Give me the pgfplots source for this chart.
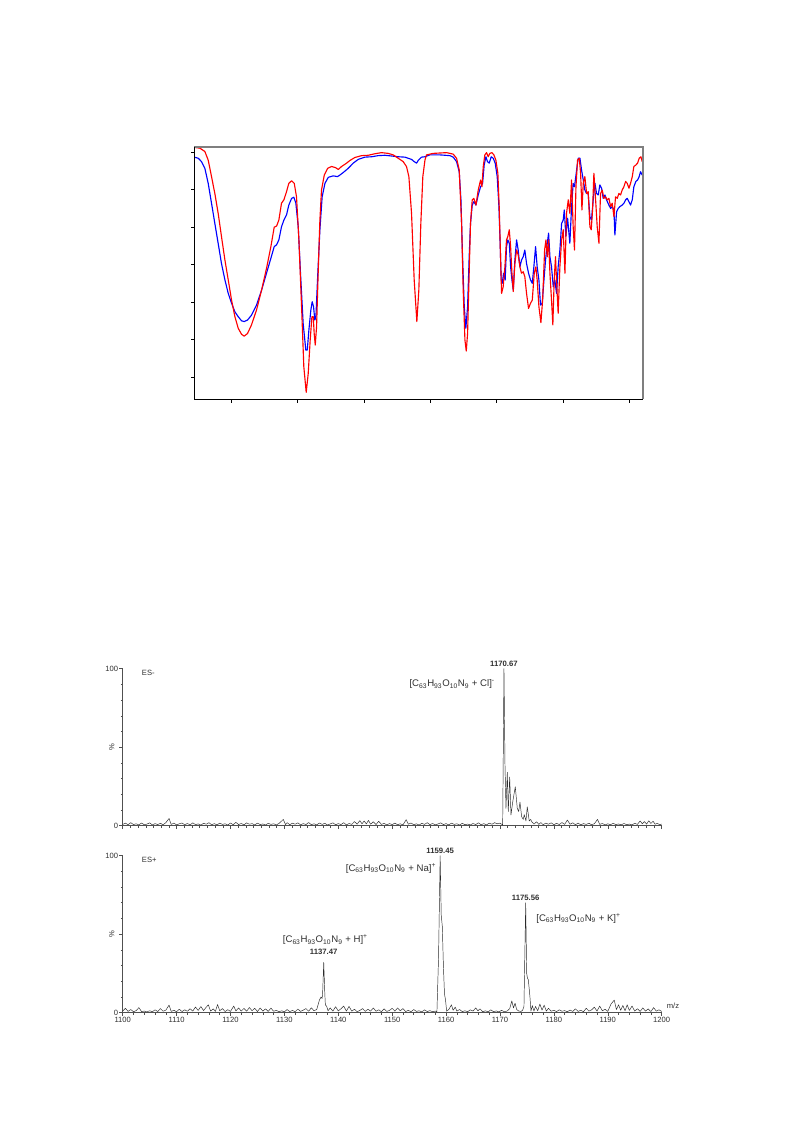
\documentclass[border=0pt]{standalone}
\usepackage{pgfplots}
\usepackage{pgfplotstable}
\pgfplotsset{compat=1.18}
\usepackage{fontspec}
\setmainfont{Liberation Sans}

\definecolor{msline}{HTML}{2B2B2B}
\definecolor{msaxcol}{HTML}{505050}
\definecolor{mstext}{HTML}{303030}
\definecolor{framegray}{HTML}{7F7F7F}

\newcommand{\tickfont}{\fontsize{5.7}{6.5}\selectfont}
\newcommand{\peakfont}{\fontsize{5.8}{6.5}\selectfont\bfseries}
\newcommand{\ionfont}{\fontsize{7.2}{8.5}\selectfont}
\newcommand{\fml}{[C\textsubscript{63}H\textsubscript{93}O\textsubscript{10}N\textsubscript{9}}

% IR spectra: wavenumber / cm-1, transmittance / %
\pgfplotstableread{
w T
3778 98.7
3748 98.4
3723 97.5
3698 95.7
3673 91.7
3648 86.4
3623 81.0
3598 75.7
3573 70.3
3547 65.9
3522 62.3
3497 59.7
3472 57.4
3447 56.1
3422 55.0
3402 54.8
3377 55.2
3347 56.5
3309 59.2
3271 63.2
3234 67.7
3201 71.7
3176 74.8
3158 75.3
3141 76.6
3121 80.1
3103 81.9
3083 83.3
3066 85.9
3045 87.7
3028 88.0
3013 86.4
2995 80.1
2978 67.7
2958 54.3
2938 47.2
2927 47.2
2915 52.5
2900 57.9
2890 60.1
2880 58.8
2870 55.2
2862 56.1
2850 65.9
2832 79.3
2815 88.1
2794 91.7
2769 93.3
2732 93.7
2699 93.5
2682 93.9
2656 94.6
2619 95.7
2581 97.1
2543 98.1
2493 98.7
2443 98.8
2393 99.1
2343 99.2
2292 99.0
2242 98.8
2192 98.7
2142 98.1
2122 97.5
2104 97.1
2092 97.8
2067 98.7
2041 98.8
2004 99.3
1929 99.3
1853 99.1
1828 98.7
1803 97.5
1783 94.8
1770 87.3
1758 72.1
1745 58.8
1733 53.0
1720 58.8
1708 72.1
1698 81.0
1685 85.9
1673 86.8
1657 85.9
1640 88.6
1622 90.8
1607 91.7
1595 96.6
1582 98.8
1570 97.5
1557 97.1
1542 98.8
1527 98.4
1512 97.1
1497 93.5
1484 85.5
1474 74.8
1467 65.9
1459 65.0
1449 67.7
1437 65.9
1427 74.8
1417 76.6
1406 75.7
1396 69.4
1386 65.9
1376 63.2
1364 71.2
1351 76.6
1339 73.9
1326 69.4
1314 71.2
1301 72.1
1289 73.9
1276 70.3
1261 67.7
1246 65.9
1233 65.0
1221 69.4
1208 74.8
1196 69.4
1183 65.9
1171 59.2
1158 59.7
1145 65.9
1133 71.2
1120 75.7
1110 78.4
1100 72.1
1088 69.4
1075 64.1
1063 65.9
1050 62.3
1038 69.4
1025 73.9
1012 81.0
1000 81.9
992 84.6
980 77.5
967 82.4
950 75.7
937 85.5
925 91.7
915 90.8
899 95.3
887 98.4
874 98.4
862 95.3
849 92.6
837 89.9
824 89.0
812 89.0
799 82.8
787 81.9
774 87.3
761 91.7
749 89.0
736 88.6
724 91.3
711 90.4
699 87.7
686 88.6
674 87.3
656 85.9
643 85.0
631 85.5
618 84.6
611 77.9
598 84.1
586 85.0
573 85.5
556 85.9
543 86.4
530 87.3
518 87.7
505 86.8
493 85.9
480 87.3
468 90.8
453 92.2
440 92.6
428 93.5
418 94.8
405 93.9
}\irblue

\pgfplotstableread{
w T
3778 101.3
3736 101.1
3698 100.2
3673 97.9
3648 93.5
3623 89.0
3598 83.7
3573 77.5
3547 71.2
3522 65.9
3497 60.5
3472 56.1
3447 53.0
3422 51.4
3402 50.9
3377 51.6
3347 53.9
3309 57.9
3271 63.2
3234 69.0
3201 74.8
3176 80.0
3158 80.3
3141 81.9
3121 86.4
3103 87.3
3083 89.5
3066 91.7
3045 92.4
3025 91.7
3008 88.1
2990 76.6
2970 58.8
2953 42.7
2935 35.9
2920 40.9
2905 49.9
2892 56.1
2882 56.1
2875 51.6
2867 48.5
2857 53.4
2845 67.7
2832 81.9
2820 89.9
2799 93.9
2774 95.7
2744 96.2
2714 95.9
2694 95.4
2669 96.2
2631 97.1
2606 97.8
2569 98.6
2518 99.1
2468 99.2
2418 99.6
2368 99.9
2318 99.7
2280 99.3
2242 98.4
2205 97.5
2180 96.2
2162 93.5
2142 83.7
2122 65.9
2102 54.8
2087 63.2
2072 81.0
2057 93.5
2041 97.9
2029 99.3
1979 99.7
1878 99.9
1828 99.5
1803 98.4
1783 95.3
1765 81.0
1753 63.2
1740 49.9
1730 46.9
1720 51.6
1708 67.7
1698 81.0
1685 87.3
1673 87.7
1657 85.9
1640 89.9
1622 92.6
1612 90.8
1602 96.2
1590 99.3
1577 99.9
1565 98.8
1552 99.7
1537 99.9
1522 99.3
1507 97.9
1492 94.4
1482 85.5
1472 72.1
1464 62.3
1452 64.1
1439 69.4
1427 76.6
1417 77.5
1406 79.3
1396 74.8
1386 67.7
1376 62.8
1364 70.3
1351 73.9
1339 72.6
1326 69.4
1314 67.7
1301 68.1
1289 66.8
1276 62.3
1261 58.3
1246 59.7
1233 60.5
1218 67.7
1206 69.4
1196 65.9
1183 58.8
1168 54.5
1155 60.5
1140 73.9
1130 76.6
1120 72.1
1110 76.6
1100 67.7
1088 60.5
1078 53.9
1068 65.9
1058 72.1
1048 64.1
1038 57.0
1025 69.4
1012 76.6
1000 79.3
987 67.7
975 83.7
962 87.3
950 83.7
937 92.6
925 80.1
915 73.9
904 90.8
892 97.9
879 98.4
869 94.4
859 84.6
849 91.7
837 93.5
824 89.0
812 89.5
799 80.1
789 79.3
779 84.6
769 94.4
756 87.3
744 80.1
731 75.7
719 89.0
706 89.9
694 87.7
681 88.1
669 87.3
656 87.7
643 85.5
631 86.4
618 82.8
606 88.1
593 87.7
581 89.0
568 88.6
556 89.9
543 90.8
530 92.2
518 91.7
505 90.4
493 91.7
480 93.5
468 96.2
453 96.6
440 97.1
428 98.4
415 98.8
405 97.5
}\irred

% ES- mass spectrum: m/z, relative intensity / %
\pgfplotstableread{
mz I
1100.0 0.8
1100.5 1.6
1101.0 0.6
1101.5 1.9
1102.0 0.7
1102.5 1.2
1103.0 0.5
1103.5 1.7
1104.0 0.6
1104.5 1.0
1105.0 1.8
1105.5 0.5
1106.0 1.3
1106.5 0.7
1107.0 1.5
1107.5 0.6
1108.0 1.9
1108.6 4.6
1109.0 0.8
1109.5 1.6
1110.0 0.5
1110.5 1.2
1111.0 1.7
1111.5 0.6
1112.0 1.4
1112.5 0.5
1113.0 1.8
1113.5 0.7
1114.0 1.1
1114.5 0.4
1115.0 1.5
1115.5 0.9
1116.0 1.9
1116.5 0.6
1117.0 1.3
1117.5 0.5
1118.0 1.6
1118.5 0.8
1119.0 1.2
1119.5 0.4
1120.0 1.7
1120.5 0.6
1121.0 2.1
1121.5 0.7
1122.0 1.4
1122.5 0.5
1123.0 1.8
1123.5 0.9
1124.0 1.3
1124.5 0.5
1125.0 1.6
1125.5 0.7
1126.0 1.1
1126.5 0.4
1127.0 1.5
1127.5 0.8
1128.0 1.2
1128.5 0.5
1129.0 1.4
1129.8 4.0
1130.2 0.7
1130.5 1.9
1131.0 0.6
1131.5 1.6
1132.0 0.9
1132.5 1.8
1133.0 0.5
1133.5 1.3
1134.0 0.7
1134.5 2.0
1135.0 0.6
1135.5 1.2
1136.0 0.5
1136.5 1.7
1137.0 0.8
1137.5 1.5
1138.0 0.4
1138.5 1.1
1139.0 1.8
1139.5 0.6
1140.0 1.3
1140.5 0.7
1141.0 1.9
1141.5 0.5
1142.0 1.4
1142.5 0.8
1143.0 2.6
1143.5 1.0
1144.0 3.2
1144.4 1.2
1144.8 3.0
1145.2 1.1
1145.6 3.4
1146.0 0.9
1146.5 2.5
1147.0 0.7
1147.5 2.8
1148.0 0.8
1148.5 1.5
1149.0 0.5
1149.5 1.3
1150.0 0.7
1150.5 1.6
1151.0 0.6
1151.5 1.2
1152.0 0.5
1152.6 3.8
1153.0 0.9
1153.5 1.7
1154.0 0.6
1154.5 1.2
1155.0 0.4
1155.5 1.5
1156.0 0.8
1156.5 1.9
1157.0 0.6
1157.5 1.4
1158.0 0.5
1158.5 1.1
1159.0 1.8
1159.5 0.7
1160.0 1.3
1160.5 0.5
1161.0 1.6
1161.5 0.8
1162.0 1.2
1162.5 0.4
1163.0 1.5
1163.5 0.6
1164.0 1.0
1164.5 0.5
1165.0 1.4
1165.5 0.7
1166.0 1.8
1166.5 0.6
1167.0 1.3
1167.5 0.5
1168.0 1.6
1168.5 0.9
1169.0 1.9
1169.5 1.2
1170.0 1.6
1170.5 0.5
1170.74 100
1170.93 38.6
1171.11 11
1171.36 34
1171.54 9
1171.80 31
1172.04 6.8
1172.36 15
1172.60 20
1172.84 24.8
1173.21 11
1173.47 9
1173.71 15
1174.02 5.7
1174.32 4
1174.50 7
1174.82 3
1175.06 12
1175.43 3
1175.70 4
1175.90 2.5
1176.3 1.0
1176.8 2.5
1177.2 0.8
1177.6 2.0
1178.0 0.6
1178.5 1.6
1179.0 0.9
1179.5 1.8
1180.0 0.6
1180.5 1.5
1181.0 0.7
1181.5 2.0
1182.0 0.8
1182.5 3.6
1183.0 0.9
1183.5 1.8
1184.0 0.6
1184.5 1.6
1185.0 0.5
1185.5 1.3
1186.0 0.8
1186.5 1.5
1187.0 0.6
1187.5 1.2
1188.1 4.0
1188.5 0.8
1189.0 1.4
1189.5 0.5
1190.0 1.2
1190.5 0.6
1191.0 1.5
1191.5 0.7
1192.0 1.1
1192.5 0.5
1193.0 1.4
1193.5 0.6
1194.0 1.0
1194.5 0.5
1195.0 1.5
1195.5 0.8
1196.0 3.0
1196.4 1.2
1196.8 2.6
1197.2 1.0
1197.6 3.1
1198.0 1.4
1198.4 2.8
1198.8 0.9
1199.2 1.5
1199.6 0.6
1200.0 1.0
}\esneg

% ES+ mass spectrum: m/z, relative intensity / %
\pgfplotstableread{
mz I
1100.0 1.0
1100.5 2.8
1101.0 0.8
1101.5 2.0
1102.0 0.6
1102.5 1.3
1103.0 3.2
1103.5 0.7
1104.0 1.0
1104.5 0.5
1105.0 1.2
1105.5 0.6
1106.0 1.8
1106.5 0.7
1107.0 2.6
1107.5 0.9
1108.0 1.6
1108.6 4.8
1109.0 0.8
1109.5 1.5
1110.0 0.6
1110.5 2.2
1111.0 0.7
1111.5 1.8
1112.0 0.9
1112.5 2.5
1113.0 1.0
1113.5 3.6
1114.0 1.4
1114.5 3.9
1115.0 1.3
1115.5 3.5
1115.9 5.0
1116.3 1.0
1116.8 2.4
1117.2 0.8
1117.6 5.2
1118.0 1.2
1118.5 2.6
1119.0 0.7
1119.5 1.9
1120.0 0.8
1120.6 4.2
1121.0 1.1
1121.5 3.0
1122.0 1.0
1122.5 2.7
1123.0 0.9
1123.5 3.3
1124.0 1.2
1124.5 2.8
1125.0 0.7
1125.5 3.0
1126.0 1.0
1126.5 2.4
1127.0 0.8
1127.5 2.9
1128.0 0.9
1128.5 1.5
1129.0 0.6
1129.5 1.2
1130.0 0.5
1130.5 2.0
1131.0 0.7
1131.5 1.4
1132.0 0.6
1132.5 2.3
1133.0 0.8
1133.5 1.6
1134.0 2.6
1134.5 0.9
1135.0 3.1
1135.5 1.2
1136.0 2.0
1136.5 8.0
1136.8 10.0
1137.0 9.0
1137.1 13.0
1137.3 32.0
1137.5 12.0
1137.6 5.0
1137.85 4.0
1138.1 1.2
1138.5 3.0
1139.0 1.0
1139.5 3.8
1140.0 1.1
1140.5 2.5
1141.0 4.2
1141.5 1.0
1142.0 4.0
1142.5 0.9
1143.0 2.2
1143.5 0.6
1144.0 1.4
1144.5 2.6
1145.0 0.8
1145.5 2.2
1146.0 1.0
1146.5 3.0
1147.0 0.9
1147.5 1.8
1148.0 0.6
1148.5 2.4
1149.0 0.8
1149.5 1.4
1150.0 2.8
1150.5 1.0
1151.0 3.0
1151.5 1.2
1152.0 2.6
1152.5 0.7
1153.0 1.5
1153.5 0.6
1154.0 2.0
1154.5 0.8
1155.0 1.2
1155.5 0.5
1156.0 1.8
1156.5 0.7
1157.0 1.3
1157.5 0.6
1158.0 1.0
1158.3 0.5
1158.6 35
1158.9 100
1159.1 62
1159.3 55
1159.5 30
1159.7 12
1159.9 8
1160.1 1.0
1160.5 2.0
1161.0 5.0
1161.3 1.5
1161.7 3.5
1162.0 1.0
1162.5 2.0
1163.0 0.7
1163.5 1.2
1164.0 0.6
1164.5 1.8
1165.0 1.0
1165.5 3.0
1165.9 1.2
1166.3 2.4
1166.8 0.6
1167.3 1.2
1167.8 0.5
1168.3 1.8
1168.8 0.6
1169.3 1.1
1169.8 0.5
1170.3 1.5
1170.8 0.6
1171.3 1.0
1171.8 2.5
1172.2 7.5
1172.5 3.0
1172.8 6.0
1173.1 2.0
1173.5 1.0
1173.9 0.8
1174.2 1.5
1174.45 4.0
1174.77 70
1174.95 25
1175.10 22
1175.25 21
1175.40 16
1175.56 10
1175.75 1.0
1176.0 4.5
1176.3 1.0
1176.6 4.0
1177.0 1.2
1177.4 5.5
1177.8 1.6
1178.2 4.8
1178.6 1.0
1179.0 2.8
1179.5 0.9
1180.0 1.5
1180.5 0.7
1181.0 1.8
1181.5 0.9
1182.0 1.3
1182.5 0.6
1183.0 1.6
1183.5 0.8
1184.0 2.4
1184.5 0.8
1185.0 1.5
1185.5 0.6
1186.0 2.8
1186.5 1.0
1187.0 1.8
1187.5 3.5
1188.0 1.0
1188.5 4.2
1189.0 1.2
1189.5 2.2
1190.0 0.8
1190.6 5.5
1191.2 8.0
1191.6 2.0
1192.0 5.0
1192.4 1.5
1192.8 4.6
1193.2 1.2
1193.6 5.0
1194.0 1.4
1194.5 4.2
1195.0 1.0
1195.5 2.5
1196.0 0.8
1196.5 3.0
1197.0 1.0
1197.5 2.4
1198.0 0.7
1198.5 3.2
1199.0 1.0
1199.5 1.8
1200.0 0.8
}\espos

\pgfplotsset{
  msstyle/.style={
    scale only axis, width=404.25pt, height=117.75pt,
    xmin=1100, xmax=1200, ymin=0, ymax=100,
    clip=false,
    axis lines=left, axis line style={-, draw=msaxcol, line width=0.5pt},
    xtick={1100,1110,...,1200},
    ytick={0,50,100}, yticklabels={0,,100},
    minor ytick={10,20,30,40,60,70,80,90},
    tick align=outside, major tick length=2.5pt, minor tick length=1.4pt,
    every tick/.style={draw=msaxcol, line width=0.4pt},
    tick label style={font=\tickfont, text=mstext},
    yticklabel style={inner sep=0.8pt},
    /pgf/number format/assume math mode=true,
    /pgf/number format/1000 sep={},
  },
}

\begin{document}
\begin{tikzpicture}
\fill[white] (0pt,0pt) rectangle (595.3pt,-842.3pt);

% ---- IR spectra ----
\begin{axis}[
  at={(145.7pt,-299.6pt)}, anchor=south west,
  scale only axis, width=336.3pt, height=189.6pt,
  x dir=reverse, xmin=402, xmax=3778, ymin=34, ymax=101.5,
  clip=false,
  axis line style={draw=none},
  xtick={500,1000,...,3500}, ytick={40,50,...,100},
  xticklabels={}, yticklabels={},
  tick align=outside, xtick pos=bottom, ytick pos=left,
  major tick length=2.4pt, every tick/.style={draw=black, line width=0.6pt},
]
\addplot[blue, line width=0.85pt, line join=round] table[x=w, y=T] {\irblue};
\addplot[red, line width=0.85pt, line join=round] table[x=w, y=T] {\irred};
\draw[framegray, line width=1.4pt] (rel axis cs:0,1) -- (rel axis cs:1,1) -- (rel axis cs:1,0);
\draw[black, line width=0.7pt] (rel axis cs:0,1) -- (rel axis cs:0,0) -- (rel axis cs:1,0);
\end{axis}

% ---- ES- ----
\begin{axis}[
  msstyle,
  at={(92.03pt,-619.28pt)}, anchor=south west,
  xticklabels={}, minor x tick num=6,
]
\addplot[msline, line width=0.35pt, line join=round] table[x=mz, y=I] {\esneg};
\node[rotate=90, font=\tickfont, text=mstext] at (axis description cs:-0.0204,0.5) {\%};
\node[anchor=west, font=\tickfont, text=mstext] at (axis cs:1102.7,97.2) {ES-};
\node[anchor=south, font=\peakfont, text=mstext, inner sep=1.2pt] at (axis cs:1170.74,100) {1170.67};
\node[anchor=east, font=\ionfont, text=mstext, inner sep=0pt] at (axis cs:1169.1,90) {\fml{} + Cl]\textsuperscript{-}};
\end{axis}

% ---- ES+ ----
\begin{axis}[
  msstyle,
  at={(92.03pt,-759.53pt)}, anchor=south west,
  minor x tick num=4,
  xticklabel style={inner sep=1pt},
]
\addplot[msline, line width=0.35pt, line join=round] table[x=mz, y=I] {\espos};
\node[rotate=90, font=\tickfont, text=mstext] at (axis description cs:-0.0204,0.5) {\%};
\node[anchor=west, font=\tickfont, text=mstext] at (axis cs:1102.7,97.3) {ES+};
\node[anchor=south, font=\peakfont, text=mstext, inner sep=1.2pt] at (axis cs:1158.9,100) {1159.45};
\node[anchor=east, font=\ionfont, text=mstext, inner sep=0pt] at (axis cs:1158.2,92) {\fml{} + Na]\textsuperscript{+}};
\node[anchor=south, font=\peakfont, text=mstext, inner sep=1.2pt] at (axis cs:1174.77,70) {1175.56};
\node[anchor=west, font=\ionfont, text=mstext, inner sep=0pt] at (axis cs:1176.7,60.1) {\fml{} + K]\textsuperscript{+}};
\node[font=\ionfont, text=mstext, inner sep=0pt] at (axis cs:1137.6,46.3) {\fml{} + H]\textsuperscript{+}};
\node[font=\peakfont, text=mstext, inner sep=0pt] at (axis cs:1137.3,38.5) {1137.47};
\node[font=\tickfont, text=mstext, inner sep=0pt] at (axis cs:1202.1,4.5) {m/z};
\end{axis}
\end{tikzpicture}
\end{document}
